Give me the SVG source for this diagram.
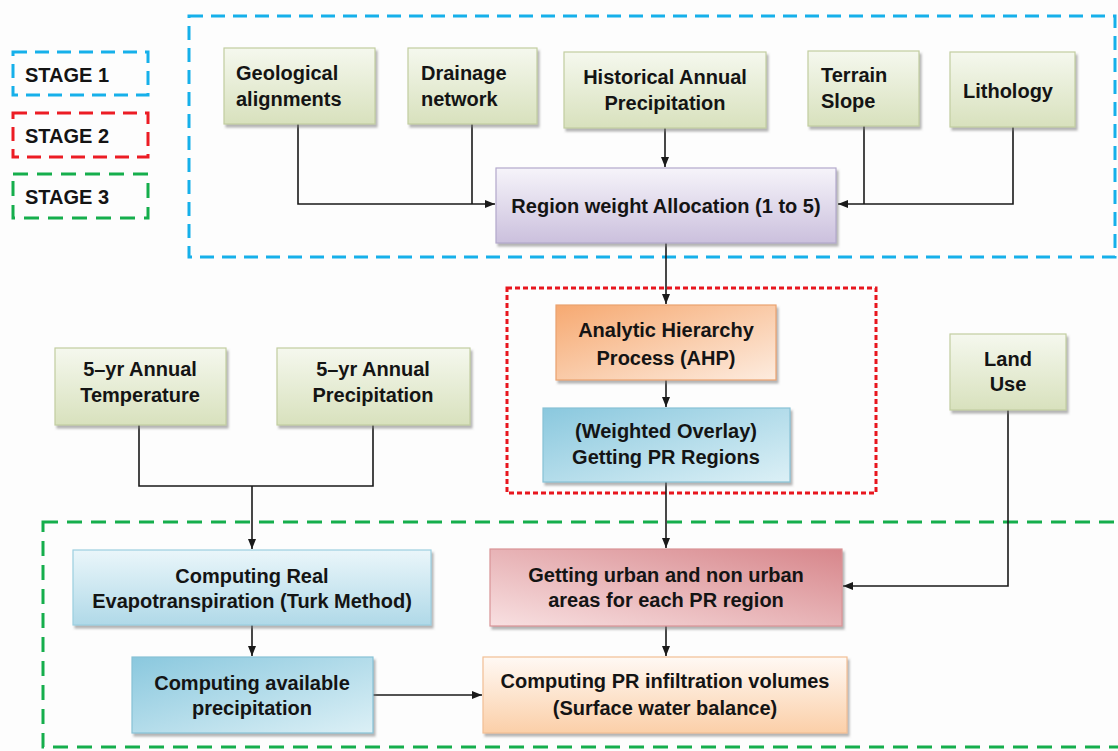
<svg xmlns="http://www.w3.org/2000/svg" width="1118" height="751" viewBox="0 0 1118 751">
<style>
text{font-family:"Liberation Sans",Arial,sans-serif;font-size:20px;font-weight:bold;fill:#141414}
.c{text-anchor:middle}
.n{stroke-width:1.2}
.ln{fill:none;stroke:#1a1a1a;stroke-width:1.6}
.st1{fill:none;stroke:#16b0ea;stroke-width:3;stroke-dasharray:14 8}
.st2{fill:none;stroke:#ec1c24;stroke-width:3;stroke-dasharray:14 8}
.st3{fill:none;stroke:#15ae4c;stroke-width:3;stroke-dasharray:15 9}
.dot{fill:none;stroke:#e8161e;stroke-width:3;stroke-dasharray:5 3}
</style>
<defs>
<filter id="sh" x="-10%" y="-10%" width="125%" height="130%">
<feDropShadow dx="2" dy="3" stdDeviation="1.3" flood-color="#7a7a7a" flood-opacity="0.55"/>
</filter>
<linearGradient id="gGreen" x1="0" y1="0" x2="0" y2="1">
<stop offset="0" stop-color="#f5f8ee"/><stop offset="1" stop-color="#d8e1bd"/>
</linearGradient>
<linearGradient id="gPurple" x1="0" y1="0" x2="0" y2="1">
<stop offset="0" stop-color="#f6f4fa"/><stop offset="1" stop-color="#cbc0dd"/>
</linearGradient>
<linearGradient id="gOrange" x1="0" y1="0" x2="1" y2="1">
<stop offset="0" stop-color="#f6a971"/><stop offset="1" stop-color="#fdecdf"/>
</linearGradient>
<linearGradient id="gBlueDark" x1="0" y1="0" x2="1" y2="1">
<stop offset="0" stop-color="#8ac8de"/><stop offset="1" stop-color="#dcf0f6"/>
</linearGradient>
<linearGradient id="gBlueLight" x1="0" y1="0" x2="0" y2="1">
<stop offset="0" stop-color="#eaf6fa"/><stop offset="1" stop-color="#b0d9e8"/>
</linearGradient>
<linearGradient id="gPink" x1="1" y1="0" x2="0" y2="1">
<stop offset="0" stop-color="#d7868b"/><stop offset="1" stop-color="#f8e0e1"/>
</linearGradient>
<linearGradient id="gPeach" x1="0" y1="0" x2="0" y2="1">
<stop offset="0" stop-color="#fff9f4"/><stop offset="1" stop-color="#fbcfa8"/>
</linearGradient>
<marker id="ar" markerUnits="userSpaceOnUse" markerWidth="10" markerHeight="8" refX="10" refY="4" orient="auto">
<path d="M0,0 L10,4 L0,8 z" fill="#1a1a1a"/>
</marker>
</defs>
<rect width="1118" height="751" fill="#fdfdfd"/>

<g id="legend">
<rect class="st1" x="13" y="52" width="135" height="43"/>
<text x="25" y="82">STAGE 1</text>
<rect class="st2" x="13" y="113" width="135" height="44"/>
<text x="25" y="143">STAGE 2</text>
<rect class="st3" x="13" y="174" width="135" height="44"/>
<text x="25" y="204">STAGE 3</text>
</g>

<g id="stage-frames">
<rect class="st1" x="189" y="16" width="926" height="241"/>
<rect class="dot" x="507" y="288" width="369" height="205"/>
<rect class="st3" x="43" y="522" width="1100" height="225"/>
</g>

<g id="connectors">
<path class="ln" d="M298,124 V204 H495" marker-end="url(#ar)"/>
<path class="ln" d="M472,124 V204"/>
<path class="ln" d="M665,128 V167" marker-end="url(#ar)"/>
<path class="ln" d="M864,126 V204"/>
<path class="ln" d="M1013,127 V204 H838" marker-end="url(#ar)"/>
<path class="ln" d="M666,243 V304" marker-end="url(#ar)"/>
<path class="ln" d="M666,380 V407" marker-end="url(#ar)"/>
<path class="ln" d="M666,482 V548" marker-end="url(#ar)"/>
<path class="ln" d="M139,425 V486 H373 V425"/>
<path class="ln" d="M252,486 V549" marker-end="url(#ar)"/>
<path class="ln" d="M252,625 V656" marker-end="url(#ar)"/>
<path class="ln" d="M373,695 H482" marker-end="url(#ar)"/>
<path class="ln" d="M1008,410 V586 H843" marker-end="url(#ar)"/>
<path class="ln" d="M666,626 V656" marker-end="url(#ar)"/>
</g>

<g id="geological-alignments">
<rect x="224" y="48" width="151" height="76" fill="url(#gGreen)" stroke="#c2cda0" class="n" filter="url(#sh)"/>
<text x="236" y="80">Geological</text>
<text x="236" y="106">alignments</text>
</g>
<g id="drainage-network">
<rect x="408" y="48" width="129" height="76" fill="url(#gGreen)" stroke="#c2cda0" class="n" filter="url(#sh)"/>
<text x="421" y="80">Drainage</text>
<text x="421" y="106">network</text>
</g>
<g id="historical-annual-precipitation">
<rect x="564" y="52" width="202" height="76" fill="url(#gGreen)" stroke="#c2cda0" class="n" filter="url(#sh)"/>
<text class="c" x="665" y="84">Historical Annual</text>
<text class="c" x="665" y="110">Precipitation</text>
</g>
<g id="terrain-slope">
<rect x="808" y="51" width="111" height="75" fill="url(#gGreen)" stroke="#c2cda0" class="n" filter="url(#sh)"/>
<text x="821" y="82">Terrain</text>
<text x="821" y="108">Slope</text>
</g>
<g id="lithology">
<rect x="950" y="52" width="125" height="75" fill="url(#gGreen)" stroke="#c2cda0" class="n" filter="url(#sh)"/>
<text x="963" y="98">Lithology</text>
</g>
<g id="region-weight-allocation">
<rect x="496" y="168" width="340" height="75" fill="url(#gPurple)" stroke="#b3a8cc" class="n" filter="url(#sh)"/>
<text class="c" x="666" y="213">Region weight Allocation (1 to 5)</text>
</g>
<g id="ahp">
<rect x="556" y="305" width="220" height="75" fill="url(#gOrange)" stroke="#eaa26f" class="n" filter="url(#sh)"/>
<text class="c" x="666" y="337">Analytic Hierarchy</text>
<text class="c" x="666" y="365">Process (AHP)</text>
</g>
<g id="weighted-overlay">
<rect x="543" y="408" width="247" height="74" fill="url(#gBlueDark)" stroke="#88c2d6" class="n" filter="url(#sh)"/>
<text class="c" x="666" y="438">(Weighted Overlay)</text>
<text class="c" x="666" y="464">Getting PR Regions</text>
</g>
<g id="land-use">
<rect x="950" y="334" width="116" height="76" fill="url(#gGreen)" stroke="#c2cda0" class="n" filter="url(#sh)"/>
<text class="c" x="1008" y="366">Land</text>
<text class="c" x="1008" y="391">Use</text>
</g>
<g id="annual-temperature">
<rect x="55" y="348" width="171" height="77" fill="url(#gGreen)" stroke="#c2cda0" class="n" filter="url(#sh)"/>
<text class="c" x="140" y="376">5–yr Annual</text>
<text class="c" x="140" y="402">Temperature</text>
</g>
<g id="annual-precipitation">
<rect x="277" y="348" width="193" height="77" fill="url(#gGreen)" stroke="#c2cda0" class="n" filter="url(#sh)"/>
<text class="c" x="373" y="376">5–yr Annual</text>
<text class="c" x="373" y="402">Precipitation</text>
</g>
<g id="computing-real-evapotranspiration">
<rect x="73" y="550" width="358" height="75" fill="url(#gBlueLight)" stroke="#9ccfe0" class="n" filter="url(#sh)"/>
<text class="c" x="252" y="583">Computing Real</text>
<text class="c" x="252" y="608">Evapotranspiration (Turk Method)</text>
</g>
<g id="computing-available-precipitation">
<rect x="132" y="657" width="241" height="76" fill="url(#gBlueDark)" stroke="#88c2d6" class="n" filter="url(#sh)"/>
<text class="c" x="252" y="690">Computing available</text>
<text class="c" x="252" y="715">precipitation</text>
</g>
<g id="urban-areas">
<rect x="490" y="549" width="352" height="77" fill="url(#gPink)" stroke="#d99396" class="n" filter="url(#sh)"/>
<text class="c" x="666" y="582">Getting urban and non urban</text>
<text class="c" x="666" y="607">areas for each PR region</text>
</g>
<g id="pr-infiltration-volumes">
<rect x="483" y="657" width="364" height="76" fill="url(#gPeach)" stroke="#f2bf94" class="n" filter="url(#sh)"/>
<text class="c" x="665" y="688">Computing PR infiltration volumes</text>
<text class="c" x="665" y="715">(Surface water balance)</text>
</g>
</svg>
